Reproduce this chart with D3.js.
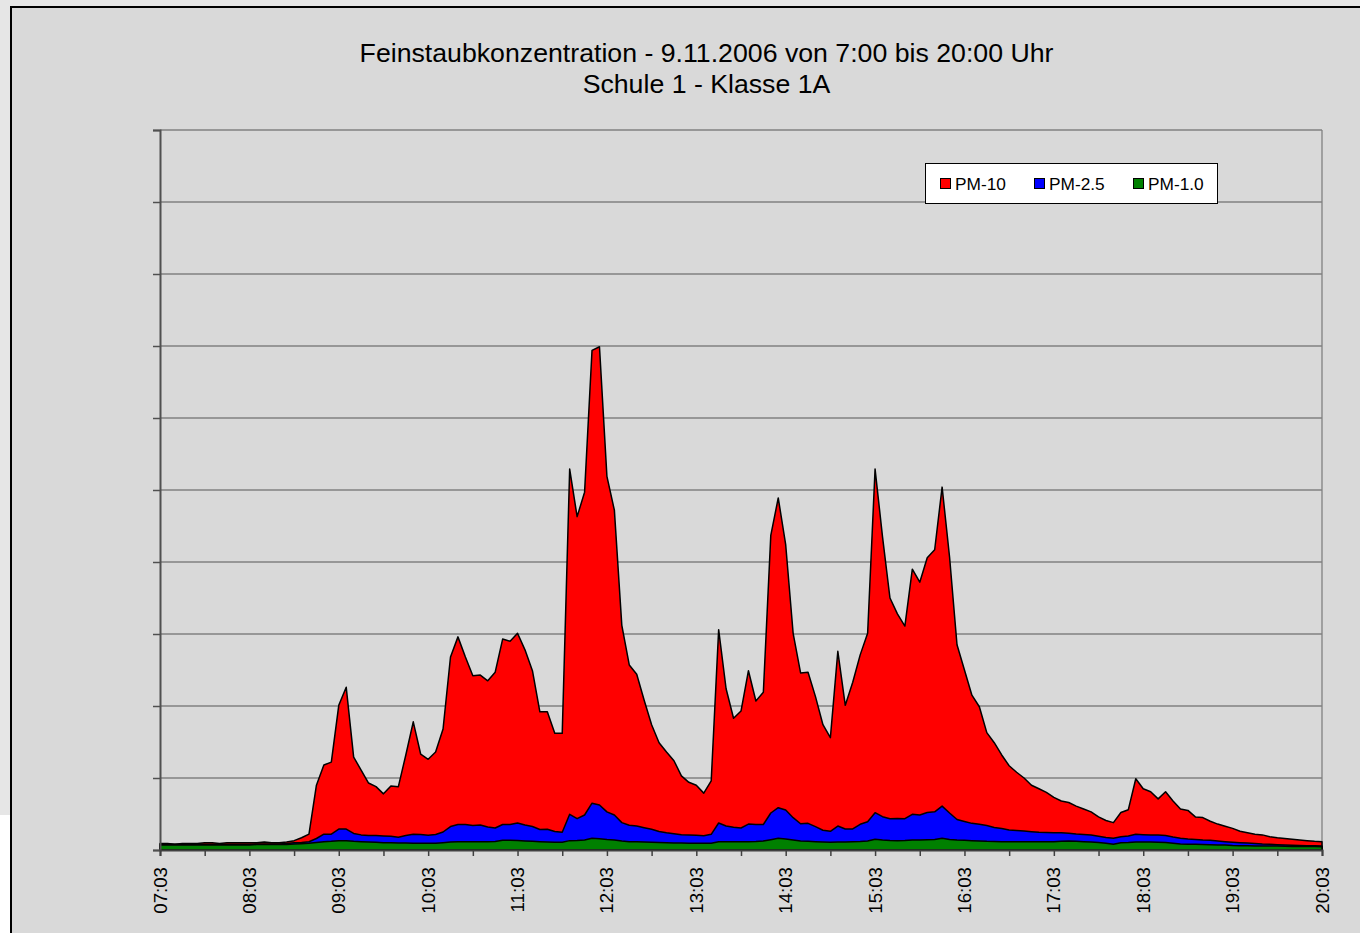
<!DOCTYPE html>
<html>
<head>
<meta charset="utf-8">
<script src="https://cdn.jsdelivr.net/npm/d3@7"></script>
<style>
  body { margin: 0; background: #e6e6e6; }
  svg { display: block; font-family: "Liberation Sans", Arial, sans-serif; }
</style>
</head>
<body>
<div class="chart"></div>
<script>
const width = 1360;
const height = 933;

// measurement series, one value every 5 minutes from 07:03 to 20:03
const pm10 = [
  9, 9, 8, 9, 9, 9, 10, 10, 9, 10, 10, 10, 10,
  10, 11, 10, 10, 11, 13, 17, 22,
  90, 118, 122, 201, 226, 129, 111, 93, 88, 78,
  89, 88, 132, 178, 133, 126, 136, 168, 268, 296,
  268, 242, 243, 235, 247, 293, 290, 301, 278, 249,
  192, 192, 162, 162, 529, 463, 497, 694, 699, 519,
  472, 312, 257, 244, 208, 174, 149, 136, 124, 103,
  94, 90, 79, 96, 306, 224, 183, 193, 249, 207,
  219, 437, 489, 424, 301, 246, 247, 213, 174, 156,
  276, 201, 233, 271, 301, 529, 435, 350, 328, 311,
  390, 372, 406, 417, 504, 407, 285, 250, 215, 199,
  163, 149, 132, 117, 108, 100, 90, 85, 80, 73,
  68, 66, 61, 57, 53, 46, 41, 38, 52, 56,
  99, 85, 81, 71, 81, 68, 57, 55, 46, 45,
  40, 36, 33, 30, 26, 24, 22, 21, 18.5, 17,
  16, 15, 14, 13, 12, 11.5
];

const pm25 = [
  8, 8, 8, 8, 8, 8, 8, 8, 8, 8, 8, 8, 8,
  8.5, 8.5, 8.5, 8.5, 9, 10, 10.4, 11.5,
  16, 22, 22, 29, 29, 23, 21, 20, 20, 19.5,
  19, 17.6, 20, 22, 21.5, 20.4, 21.5, 25, 32.6, 35.4,
  35.4, 34, 34.7, 32, 30.6, 35.4, 35.4, 37.5, 34.7, 32.6,
  28.5, 28.8, 25.7, 24.6, 49.6, 43.5, 48.6, 65, 62.5, 53,
  48.6, 38, 34.3, 33.3, 31, 28.8, 25.7, 24, 22.6, 21.3,
  20.8, 20.4, 19.9, 21.8, 37.5, 33.3, 31.5, 30.6, 36, 35.4,
  35.4, 51.4, 58.8, 55.6, 44.9, 36.4, 37, 32.4, 27.4, 26,
  33.3, 29.2, 29.2, 35.7, 39.3, 51.8, 46.3, 43.5, 43.8, 43.5,
  49.6, 48.6, 52, 53, 61, 51.4, 42.4, 39.6, 37, 35.7,
  34, 31.3, 29.9, 27.8, 27, 26.4, 25.4, 24.6, 24.3, 24,
  24, 23.2, 22.2, 21.5, 20.8, 19, 17.4, 16.3, 18.5, 19.4,
  21.8, 21.3, 20.8, 20.8, 20, 18, 16.3, 15.3, 14.6, 13.9,
  13.5, 12.5, 11.5, 10.7, 10.1, 9.7, 9, 8.3, 7.9, 7.4,
  6.9, 6.5, 6.2, 6, 5.8, 5.6
];

const pm1 = [
  7, 7, 7, 7, 7, 7, 7, 7, 7, 7, 7, 7, 7,
  7.6, 7.6, 7.6, 7.6, 7.6, 8.3, 8.8, 9.3,
  10.4, 11.5, 12, 13, 13, 12, 11.5, 11, 10.7, 10.1,
  10.1, 9.7, 9.7, 9.3, 9.3, 9.3, 9.3, 10.1, 11, 11.5,
  11.5, 11.5, 11.5, 11.5, 11.8, 13.5, 13.5, 13.2, 12.5, 12,
  11.5, 11, 10.7, 10.7, 13, 13.2, 13.9, 16.3, 15.7, 14.6,
  13.9, 12.5, 11.5, 11.5, 11, 10.7, 10.4, 10.1, 9.7, 9.7,
  9.3, 9.3, 9.3, 9.3, 11.5, 11.5, 11.5, 11.5, 11.5, 11.8,
  12.5, 14.3, 16.3, 15.3, 13.9, 12.5, 12, 11.5, 11, 10.7,
  11, 11, 11.5, 11.8, 12.5, 14.9, 13.9, 13.2, 13, 13.2,
  13.9, 13.9, 14.3, 14.6, 16.3, 14.6, 13.9, 13.5, 13, 12.5,
  12, 11.8, 11.5, 11.5, 11.5, 11.5, 11.5, 11.5, 11.5, 11.5,
  12, 12.5, 12, 11.5, 11, 10.4, 9.3, 7.9, 10.1, 10.4,
  11, 11, 11, 10.7, 10.4, 9.3, 8.3, 7.9, 7.9, 7.6,
  7.4, 6.9, 6.9, 6.2, 5.8, 5.8, 5.7, 5.7, 5.6, 5.6,
  5.1, 5, 4.9, 4.8, 4.7, 4.6
];

const hourLabels = ["07:03", "08:03", "09:03", "10:03", "11:03", "12:03", "13:03",
  "14:03", "15:03", "16:03", "17:03", "18:03", "19:03", "20:03"];

const seriesNames = ["PM-10", "PM-2.5", "PM-1.0"];
const seriesColors = ["#ff0000", "#0000ff", "#008000"];

const titleLines = ["Feinstaubkonzentration - 9.11.2006 von 7:00 bis 20:00 Uhr", "Schule 1 - Klasse 1A"];

// time of each sample
const parseTime = d3.timeParse("%H:%M");
const t0 = parseTime(hourLabels[0]);
const times = pm10.map((d, i) => d3.timeMinute.offset(t0, i * 5));

const svg = d3.select(".chart")
  .append("svg")
  .attr("width", width)
  .attr("height", height);

// outer background + chart area
svg.append("rect")
  .attr("width", width).attr("height", height)
  .style("fill", "#e6e6e6");
svg.append("rect")
  .attr("x", 0).attr("y", 815).attr("width", 10).attr("height", 118)
  .style("fill", "#ffffff");
svg.append("rect")
  .attr("x", 11).attr("y", 7)
  .attr("width", width).attr("height", height)
  .style("fill", "#d9d9d9")
  .style("stroke", "#000")
  .style("stroke-width", 2);

const plot = { left: 160, right: 1322, top: 130, bottom: 850 };

const x_scale = d3.scaleTime()
  .domain([times[0], times[times.length - 1]])
  .range([plot.left, plot.right]);
const y_scale = d3.scaleLinear()
  .domain([0, 1000])
  .range([plot.bottom, plot.top]);

// gridlines
const yTicks = d3.range(0, 1001, 100);
svg.append("g")
  .selectAll("line")
  .data(yTicks.slice(1))
  .enter()
  .append("line")
  .attr("x1", plot.left).attr("x2", plot.right)
  .attr("y1", d => y_scale(d)).attr("y2", d => y_scale(d))
  .style("stroke", "#808080")
  .style("stroke-width", 1.3);

svg.append("line")
  .attr("x1", plot.right).attr("x2", plot.right)
  .attr("y1", plot.top).attr("y2", plot.bottom)
  .style("stroke", "#808080")
  .style("stroke-width", 1.3);

// areas, drawn from zero, biggest first
const allSeries = [pm10, pm25, pm1];
allSeries.forEach((values, k) => {
  const area = d3.area()
    .x((d, i) => x_scale(times[i]))
    .y0(y_scale(0))
    .y1(d => y_scale(d));
  svg.append("path")
    .datum(values)
    .attr("d", area)
    .style("fill", seriesColors[k])
    .style("stroke", "#000")
    .style("stroke-width", 1.5)
    .style("stroke-linejoin", "round");
});

// y axis (no labels)
const y_axis = d3.axisLeft(y_scale)
  .tickValues(yTicks)
  .tickSize(7)
  .tickFormat("");
svg.append("g")
  .attr("class", "y-axis")
  .attr("transform", "translate(" + plot.left + ",0)")
  .call(y_axis)
  .call(g => g.select(".domain").style("stroke", "#505050").style("stroke-width", 2))
  .call(g => g.selectAll(".tick line").style("stroke", "#505050").style("stroke-width", 1.5));

// x axis: ticks each 30 min, labels each hour
const halfHours = d3.range(0, 27).map(i => d3.timeMinute.offset(t0, i * 30));
const x_axis = d3.axisBottom(x_scale)
  .tickValues(halfHours)
  .tickSize(6)
  .tickFormat("");
svg.append("g")
  .attr("class", "x-axis")
  .attr("transform", "translate(0," + plot.bottom + ")")
  .call(x_axis)
  .call(g => g.select(".domain").style("stroke", "#404040").style("stroke-width", 2))
  .call(g => g.selectAll(".tick line").style("stroke", "#404040").style("stroke-width", 1.5));

svg.append("g")
  .selectAll("text")
  .data(hourLabels)
  .enter()
  .append("text")
  .attr("transform", d => "translate(" + x_scale(parseTime(d)) + "," + (plot.bottom + 17) + ") rotate(-90)")
  .attr("dy", "0.35em")
  .style("text-anchor", "end")
  .style("font-size", "18.7px")
  .style("fill", "#000")
  .text(d => d);

// title
svg.append("g")
  .selectAll("text")
  .data(titleLines)
  .enter()
  .append("text")
  .attr("x", 706.5)
  .attr("y", (d, i) => 62 + i * 31)
  .style("text-anchor", "middle")
  .style("font-size", "26.7px")
  .style("fill", "#000")
  .text(d => d);

// legend
const legend = svg.append("g").attr("class", "legend");
legend.append("rect")
  .attr("x", 925.5).attr("y", 163.5)
  .attr("width", 292).attr("height", 40)
  .style("fill", "#fff")
  .style("stroke", "#000")
  .style("stroke-width", 1);

const legendX = [940, 1034, 1133];
const items = legend.selectAll(".item")
  .data(seriesNames)
  .enter()
  .append("g")
  .attr("class", "item")
  .attr("transform", (d, i) => "translate(" + legendX[i] + ",0)");
items.append("rect")
  .attr("x", 0.5).attr("y", 178.5)
  .attr("width", 10).attr("height", 10)
  .style("fill", (d, i) => seriesColors[i])
  .style("stroke", "#000")
  .style("stroke-width", 1);
items.append("text")
  .attr("x", 15)
  .attr("y", 190)
  .style("font-size", "17.3px")
  .style("fill", "#000")
  .text(d => d);
</script>
</body>
</html>
